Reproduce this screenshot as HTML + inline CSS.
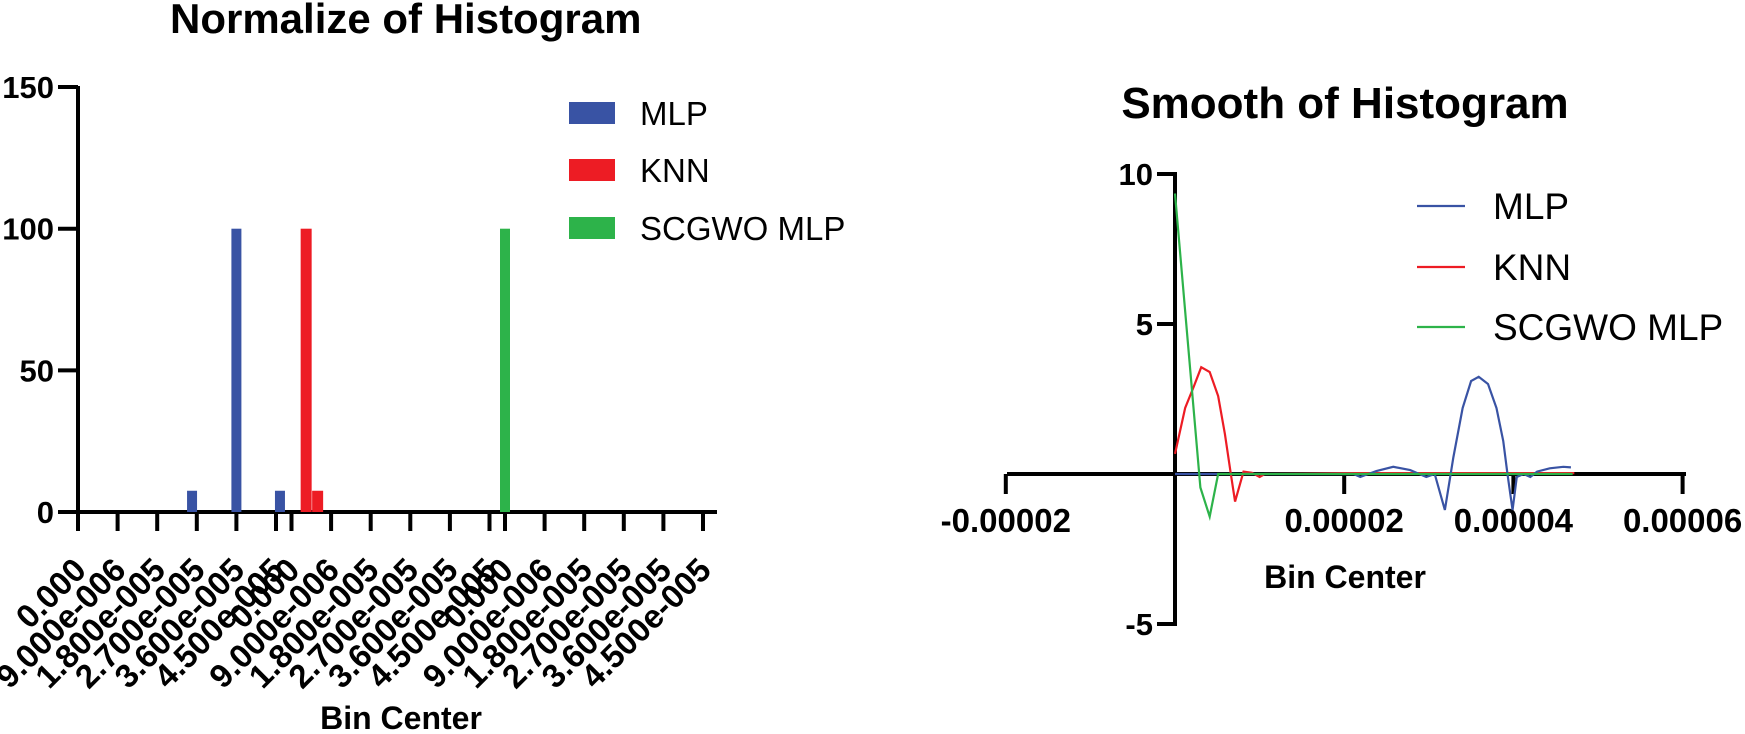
<!DOCTYPE html>
<html><head><meta charset="utf-8"><style>
html,body{margin:0;padding:0;background:#fff}
svg{display:block}
text{font-family:"Liberation Sans",Arial,sans-serif}
</style></head><body>
<svg id="c" width="1745" height="734" viewBox="0 0 1745 734" xmlns="http://www.w3.org/2000/svg">
<text x="170" y="33" font-size="42" font-weight="bold" text-anchor="start">Normalize of Histogram</text>
<text x="1345" y="118" font-size="44" font-weight="bold" text-anchor="middle">Smooth of Histogram</text>
<text x="401" y="729" font-size="32" font-weight="bold" text-anchor="middle">Bin Center</text>
<text x="1345" y="588" font-size="32" font-weight="bold" text-anchor="middle">Bin Center</text>
<g id="left"></g><g id="right"></g>
</svg>
<script>
// ---- left chart data ----
const leftYTicks=[0,50,100,150];
const leftGroupLabels=["0.000","9.000e-006","1.800e-005","2.700e-005","3.600e-005","4.500e-005"];
const mlpBarPos=[2.88,4.0,5.1];
const mlpBarVal=[7.5,100,7.5];
const knnBarPos=[0.37,0.66];
const knnBarVal=[100,7.5];
const scgwoBarPos=[0.0];
const scgwoBarVal=[100];
// ---- right chart data ----
const rightYTicks=[-5,5,10];
const rightXTicks=[-2,2,4,6];
const rightXTickLabels=["-0.00002","0.00002","0.00004","0.00006"];
const greenX=[0,0.3,0.41,0.51,1,2,3,4,4.7];
const greenY=[9.35,-0.45,-1.42,0,0,0,0,0,0];
const redX=[0,0.12,0.22,0.31,0.41,0.51,0.59,0.66,0.71,0.81,0.91,1.0,1.06,2,3,4,4.72];
const redY=[0.67,2.2,2.9,3.56,3.4,2.6,1.33,0,-0.92,0.08,0.04,-0.1,0,0.03,0.03,0.03,0.03];
const blueX=[0,1,2.11,2.19,2.38,2.58,2.78,2.97,3.07,3.19,3.29,3.4,3.5,3.59,3.7,3.8,3.88,3.93,3.99,4.04,4.12,4.2,4.28,4.43,4.59,4.68];
const blueY=[0,0,0,-0.1,0.1,0.24,0.13,-0.1,0,-1.2,0.55,2.2,3.1,3.24,3.0,2.2,1.1,0,-1.2,-0.1,0,-0.1,0.08,0.19,0.24,0.22];

const NS="http://www.w3.org/2000/svg";
function mk(parent,tag,attrs){const e=document.createElementNS(NS,tag);for(const k in attrs)e.setAttribute(k,attrs[k]);parent.appendChild(e);return e;}
const BLUE="#3953a4",RED="#ed1c24",GREEN="#2db34a";

// left axes
const L=document.getElementById('left');
const ly=v=>512-v*2.833;
const lx=(g,i)=>78+g*213.5+i*39.6;
let ax=mk(L,'line',{x1:78,y1:86,x2:78,y2:514,stroke:'#000','stroke-width':4});


ax=mk(L,'line',{x1:58,y1:512,x2:717,y2:512,stroke:'#000','stroke-width':4});


leftYTicks.forEach(v=>{
  mk(L,'line',{x1:58,y1:ly(v),x2:78,y2:ly(v),stroke:'#000','stroke-width':4});
  const t=mk(L,'text',{x:54,y:ly(v)+11,'font-size':31,'font-weight':'bold','text-anchor':'end'});
  t.textContent=v;
  
  
});
for(let g=0;g<3;g++)for(let i=0;i<6;i++){
  const x=lx(g,i);
  mk(L,'line',{x1:x,y1:512,x2:x,y2:531,stroke:'#000','stroke-width':4});
  const t=mk(L,'text',{x:0,y:0,'font-size':33,'font-weight':'bold','text-anchor':'end',transform:`translate(${x+10},${572}) rotate(-45)`});
  t.textContent=leftGroupLabels[i];
  
  
}
function bars(pos,val,g,color,name,w){
  pos.forEach((p,k)=>{
    const x=lx(g,p);
    const r=mk(L,'rect',{x:x-w/2,y:ly(val[k]),width:w,height:512-ly(val[k]),fill:color});
    
    
  });
}
bars(mlpBarPos,mlpBarVal,0,BLUE,'mlp-bar',10);
bars(knnBarPos,knnBarVal,1,RED,'knn-bar',11);
bars(scgwoBarPos,scgwoBarVal,2,GREEN,'scgwo-mlp-bar',10);
[["MLP",BLUE,102],["KNN",RED,159],["SCGWO MLP",GREEN,217]].forEach(([n,c,y])=>{
  const r=mk(L,'rect',{x:569,y:y,width:46,height:22,fill:c});
  
  
  const t=mk(L,'text',{x:640,y:y+23,'font-size':33});
  t.textContent=n;
  
  
});

// right chart
const R=document.getElementById('right');
const rx=v=>1175+v*84.6;
const ry=v=>474-v*30;
ax=mk(R,'line',{x1:1175,y1:172,x2:1175,y2:626,stroke:'#000','stroke-width':4});


ax=mk(R,'line',{x1:1007,y1:474,x2:1686,y2:474,stroke:'#000','stroke-width':4});


rightYTicks.forEach(v=>{
  mk(R,'line',{x1:1157,y1:ry(v),x2:1175,y2:ry(v),stroke:'#000','stroke-width':4});
  const t=mk(R,'text',{x:1153,y:ry(v)+11,'font-size':31,'font-weight':'bold','text-anchor':'end'});
  t.textContent=v;
  
  
});
rightXTicks.forEach((v,k)=>{
  mk(R,'line',{x1:rx(v),y1:474,x2:rx(v),y2:494,stroke:'#000','stroke-width':4});
  const t=mk(R,'text',{x:rx(v),y:532,'font-size':33,'font-weight':'bold','text-anchor':'middle'});
  t.textContent=rightXTickLabels[k];
  
  
});
function line(xs,ys,color,name){
  const p=mk(R,'polyline',{points:xs.map((x,i)=>rx(x)+','+ry(ys[i])).join(' '),fill:'none',stroke:color,'stroke-width':2.2});
  
  
}
line(redX,redY,RED,'knn-line');
line(blueX,blueY,BLUE,'mlp-line');
line(greenX,greenY,GREEN,'scgwo-mlp-line');
[["MLP",BLUE,206],["KNN",RED,267],["SCGWO MLP",GREEN,327]].forEach(([n,c,y])=>{
  const l=mk(R,'line',{x1:1417,y1:y,x2:1465,y2:y,stroke:c,'stroke-width':2.2});
  
  
  const t=mk(R,'text',{x:1493,y:y+13,'font-size':37});
  t.textContent=n;
  
  
});
</script>
</body></html>
